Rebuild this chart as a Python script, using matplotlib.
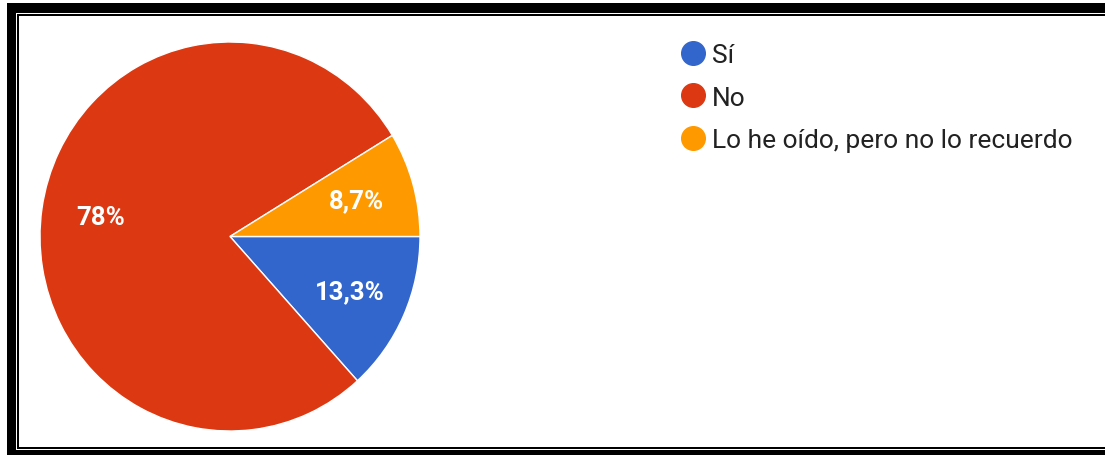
import matplotlib.pyplot as plt
from matplotlib.lines import Line2D
from matplotlib.patches import Rectangle

# respuestas de la encuesta (porcentajes)
categorias = ["Sí", "No", "Lo he oído, pero no lo recuerdo"]
porcentajes = [13.3, 78.0, 8.7]
colores = ["#3366cc", "#dc3912", "#ff9900"]

W, H = 1105, 456


def etiqueta(p):
    txt = f"{p:.1f}".replace(".", ",")
    if txt.endswith(",0"):
        txt = txt[:-2]
    return txt + "%"


def rect_px(fig, x0, y0, x1, y1):
    # rectangulo en pixeles con origen arriba a la izquierda
    fig.add_artist(Rectangle((x0 / W, 1 - y1 / H), (x1 - x0) / W, (y1 - y0) / H,
                             transform=fig.transFigure, facecolor="black",
                             edgecolor="none"))


def main():
    plt.rcParams["font.family"] = ["Roboto", "DejaVu Sans"]
    fig = plt.figure(figsize=(W / 100, H / 100), dpi=100)
    fig.patch.set_facecolor("white")

    # marco doble
    rect_px(fig, 7, 4, W + 5, 14)
    rect_px(fig, 7, 4, 16, H + 5)
    rect_px(fig, 7, 451, W + 5, H + 5)
    rect_px(fig, 17, 15, W + 5, 17)
    rect_px(fig, 17, 15, 19, 450)
    rect_px(fig, 17, 448, W + 5, 450)

    # caja de la torta en pixeles (x0, y0, x1, y1)
    x0, y0, x1, y1 = 40, 43, 420, 432
    ax = fig.add_axes([x0 / W, 1 - y1 / H, (x1 - x0) / W, (y1 - y0) / H])
    wedges, textos, autotextos = ax.pie(
        porcentajes, colors=colores, startangle=0, counterclock=False,
        autopct=etiqueta, pctdistance=0.69,
        wedgeprops=dict(edgecolor="white", linewidth=1),
        textprops=dict(color="white", fontsize=18.5, fontweight="bold"))
    ax.set_aspect("auto")
    ax.set_xlim(-1, 1)
    ax.set_ylim(-1, 1)

    handles = [Line2D([], [], marker="o", linestyle="none", markersize=17,
                      markerfacecolor=c, markeredgecolor=c) for c in colores]
    fig.legend(handles, categorias, loc="upper left",
               bbox_to_anchor=(667 / W, 1 - 31 / H), frameon=False,
               fontsize=19, labelcolor="#222222", handletextpad=0.2,
               labelspacing=0.7, handlelength=1.0, borderpad=0)

    fig.savefig("out.png", dpi=100, facecolor="white")


if __name__ == "__main__":
    main()
